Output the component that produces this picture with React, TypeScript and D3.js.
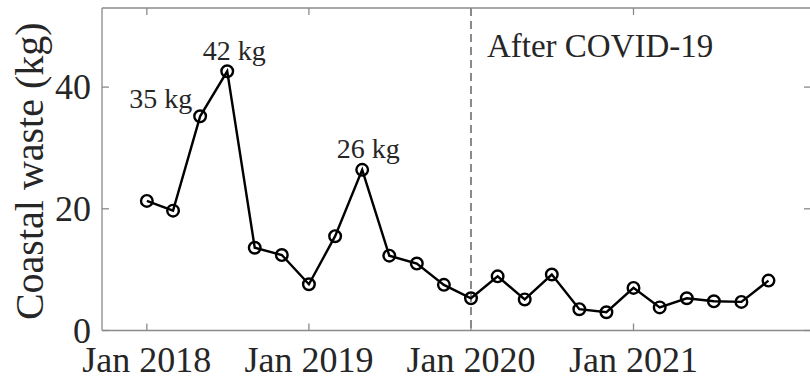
import React from 'react';
import * as d3 from 'd3';

const WIDTH = 810;
const HEIGHT = 382;
const FRAME = { left: 102, right: 812, top: 8, bottom: 330.5 };

// bimonthly samples
const months = [
  '2018-01', '2018-03', '2018-05', '2018-07', '2018-09', '2018-11',
  '2019-01', '2019-03', '2019-05', '2019-07', '2019-09', '2019-11',
  '2020-01', '2020-03', '2020-05', '2020-07', '2020-09', '2020-11',
  '2021-01', '2021-03', '2021-05', '2021-07', '2021-09', '2021-11',
];
const waste = [
  21.3, 19.7, 35.2, 42.6, 13.6, 12.4,
  7.6, 15.5, 26.4, 12.3, 11.0, 7.5,
  5.3, 8.9, 5.1, 9.2, 3.5, 3.0,
  7.0, 3.8, 5.3, 4.8, 4.7, 8.2,
];
const yTicks = [0, 20, 40];
const xTickLabels = ['Jan 2018', 'Jan 2019', 'Jan 2020', 'Jan 2021'];
const xTickDates = ['2018-01-01', '2019-01-01', '2020-01-01', '2021-01-01'];
const peaks = [
  { idx: 2, label: '35 kg', anchor: 'end', dx: -8, dy: -8 },
  { idx: 3, label: '42 kg', anchor: 'middle', dx: 7, dy: -11 },
  { idx: 8, label: '26 kg', anchor: 'middle', dx: 6, dy: -12 },
];
const covidDate = '2020-01-01';
const covidLabel = 'After COVID-19';

const FONT = '"Liberation Serif", "Times New Roman", serif';
const TEXT = '#262626';
const AXIS = '#8a8a8a';

const parseMonth = d3.timeParse('%Y-%m');
const parseDay = d3.timeParse('%Y-%m-%d');

export default function App() {
  const x = d3
    .scaleTime()
    .domain([new Date(2017, 8, 22), new Date(2022, 1, 7)])
    .range([FRAME.left, FRAME.right]);
  const y = d3.scaleLinear().domain([0, 53]).range([FRAME.bottom, FRAME.top]);

  const points = months.map((m, i) => ({ date: parseMonth(m) as Date, value: waste[i] }));
  const line = d3
    .line<{ date: Date; value: number }>()
    .x((d) => x(d.date))
    .y((d) => y(d.value));

  const covidX = x(parseDay(covidDate) as Date);

  return (
    <svg
      width={WIDTH}
      height={HEIGHT}
      style={{ position: 'absolute', left: 0, top: 0, background: '#fff' }}
      fontFamily={FONT}
    >
      {/* box, ticks inside */}
      <g stroke={AXIS} strokeWidth={1.3} fill="none">
        <line x1={FRAME.left} x2={FRAME.right} y1={FRAME.bottom} y2={FRAME.bottom} />
        <line x1={FRAME.left} x2={FRAME.right} y1={FRAME.top} y2={FRAME.top} />
        <line x1={FRAME.left} x2={FRAME.left} y1={FRAME.top} y2={FRAME.bottom} />
        <line x1={FRAME.right} x2={FRAME.right} y1={FRAME.top} y2={FRAME.bottom} />
        {xTickDates.map((d) => {
          const px = x(parseDay(d) as Date);
          return (
            <g key={d}>
              <line x1={px} x2={px} y1={FRAME.bottom} y2={FRAME.bottom - 7} />
              <line x1={px} x2={px} y1={FRAME.top} y2={FRAME.top + 7} />
            </g>
          );
        })}
        {yTicks.map((t) => (
          <g key={t}>
            <line x1={FRAME.left} x2={FRAME.left + 7} y1={y(t)} y2={y(t)} />
            <line x1={FRAME.right} x2={FRAME.right - 8} y1={y(t)} y2={y(t)} />
          </g>
        ))}
      </g>

      {/* tick labels */}
      <g fill={TEXT} fontSize={36}>
        {yTicks.map((t) => (
          <text key={t} x={FRAME.left - 11} y={y(t)} textAnchor="end" dominantBaseline="central">
            {t}
          </text>
        ))}
        {xTickDates.map((d, i) => (
          <text key={d} x={x(parseDay(d) as Date)} y={372} textAnchor="middle">
            {xTickLabels[i]}
          </text>
        ))}
      </g>

      <text
        transform={`translate(43, ${(FRAME.top + FRAME.bottom) / 2 + 2}) rotate(-90)`}
        textAnchor="middle"
        fontSize={40}
        fill={TEXT}
      >
        Coastal waste (kg)
      </text>

      {/* covid marker */}
      <line
        x1={covidX}
        x2={covidX}
        y1={FRAME.top}
        y2={FRAME.bottom}
        stroke="#8a8a8a"
        strokeWidth={2}
        strokeDasharray="8 5"
      />
      <text x={covidX + 16} y={57} fontSize={33} fill={TEXT}>
        {covidLabel}
      </text>

      {/* series */}
      <path d={line(points) ?? ''} fill="none" stroke="#000" strokeWidth={2.4} />
      {points.map((p, i) => (
        <circle key={i} cx={x(p.date)} cy={y(p.value)} r={5.8} fill="none" stroke="#000" strokeWidth={2.4} />
      ))}

      {peaks.map((p) => (
        <text
          key={p.label}
          x={x(points[p.idx].date) + p.dx}
          y={y(points[p.idx].value) + p.dy}
          textAnchor={p.anchor as 'end' | 'middle'}
          fontSize={28}
          fill={TEXT}
        >
          {p.label}
        </text>
      ))}
    </svg>
  );
}
